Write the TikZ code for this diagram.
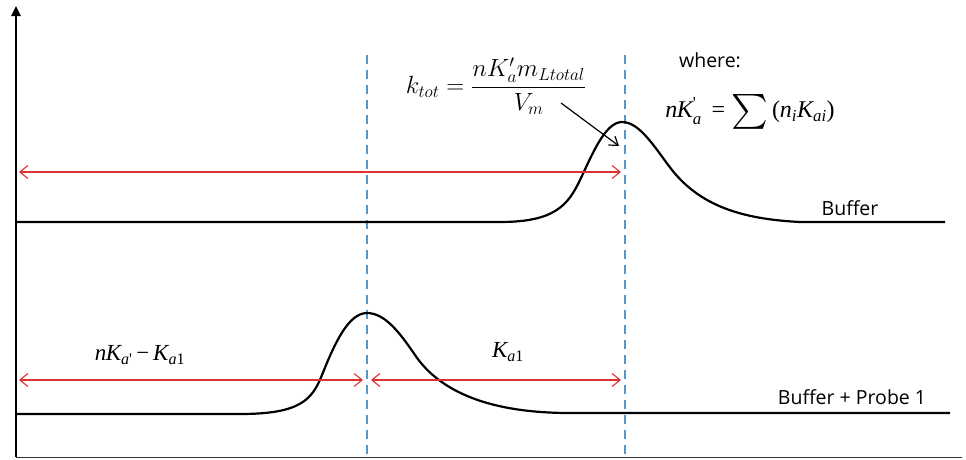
\documentclass[tikz,border=0pt]{standalone}
\usepackage{amsmath}
\usepackage{graphicx}
\usepackage{fontspec}
\setsansfont{Open Sans}
\newfontfamily\tms{Liberation Serif}
\usetikzlibrary{arrows.meta}
\definecolor{arrowred}{RGB}{222,50,50}
\definecolor{guideblue}{RGB}{88,150,200}
\begin{document}
\begin{tikzpicture}[x=1pt,y=-1pt,
  curve/.style={line width=2.2pt, black, line join=round},
  redarrow/.style={draw=arrowred, line width=1.1pt, {Straight Barb[length=8pt,width=13pt]}-{Straight Barb[length=8pt,width=13pt]}},
  pointer/.style={draw=black, line width=1.2pt, -{Straight Barb[length=8pt,width=11pt]}},
  guide/.style={draw=guideblue, line width=1.6pt, dash pattern=on 9pt off 6pt},
  lbl/.style={font=\sffamily\fontsize{19.5}{22}\selectfont, inner sep=0pt},
  tlbl/.style={font=\tms\itshape\fontsize{23}{26}\selectfont, inner sep=0pt}]
\useasboundingbox (0,0) rectangle (966,459);

% axes
\coordinate (o) at (16,457);
\coordinate (ytop) at (16,6);
\coordinate (xend) at (962,457);
\draw[line width=0.9pt, black!80] (o) -- (xend);
\draw[line width=2.4pt, -{Triangle[length=10pt,width=9pt]}] (o) -- (ytop);

% guide lines
\coordinate (g1t) at (367,55); \coordinate (g1b) at (367,459);
\coordinate (g2t) at (625,55); \coordinate (g2b) at (625,459);
\draw[guide] (g1t) -- (g1b);
\draw[guide] (g2t) -- (g2b);

% curves
\draw[curve] (16,222) -- (500,222)
  .. controls (555,222) and (568,205) .. (580,180)
  .. controls (592,155) and (605,122) .. (622,122)
  .. controls (640,122) and (655,148) .. (672,170)
  .. controls (700,205) and (740,219) .. (800,222) -- (945,222);
\draw[curve] (16,414) -- (240,414)
  .. controls (300,414) and (312,400) .. (322,375)
  .. controls (334,345) and (348,313) .. (367,313)
  .. controls (385,313) and (400,333) .. (415,355)
  .. controls (440,392) and (490,413) .. (570,413) -- (950,413);

% red arrows
\coordinate (r1a) at (19,172); \coordinate (r1b) at (621,172);
\coordinate (r2a) at (19,380); \coordinate (r2b) at (363,380);
\coordinate (r3a) at (371,380); \coordinate (r3b) at (621,380);
\draw[redarrow] (r1a) -- (r1b);
\draw[redarrow] (r2a) -- (r2b);
\draw[redarrow] (r3a) -- (r3b);

% labels
\node[font=\fontsize{26}{30}\selectfont, inner sep=0pt] (ktot) at (496,86) {$k_{tot}=\dfrac{nK'_a m_{Ltotal}}{V_m}$};
\node[lbl] (where) at (710,60) {where:};
\node[tlbl, font=\tms\itshape\fontsize{24}{27}\selectfont] (sum) at (750,112)
  {n\kern-0.5pt K$^{\text{\upshape'}}_{\text{a}}$\, \upshape= \raisebox{-0.25ex}{\scalebox{1.4}{$\sum$}}\,(\itshape n$_{\text{i}}$K$_{\text{ai}}$\upshape)};
\node[lbl] (buf) at (850,208) {Buffer};
\node[lbl] (bufp) at (852,397) {Buffer + Probe 1};
\node[tlbl] (l1) at (140,355)
  {n\kern-0.5pt K$_{\text{a\upshape'}}$\,\upshape−\,\itshape K$_{\text{a\upshape 1}}$};
\node[tlbl] (l2) at (508,352)
  {K$_{\text{a\upshape 1}}$};

\coordinate (pa) at (561,103); \coordinate (pb) at (619,146);
\draw[pointer] (pa) -- (pb);
\end{tikzpicture}
\end{document}
